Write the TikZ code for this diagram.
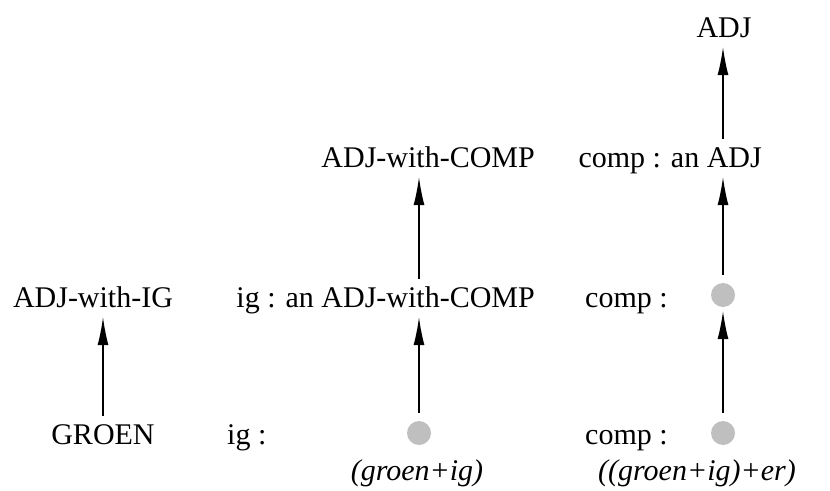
\documentclass[tikz,border=0pt]{standalone}
\usepackage{fontspec}
\setmainfont{Liberation Serif}
\usepackage{tikz}
\usetikzlibrary{
    calc,
    arrows.meta,
    shapes.geometric
}
\tikzset{
    lbl/.style={font=\fontsize{30}{36}\selectfont, inner sep=0pt, text height=20pt, text depth=6pt},
    der/.style={font=\fontsize{30}{36}\selectfont\itshape, inner sep=0pt, anchor=base},
    blob/.style={circle, fill=black!25, minimum size=24pt, inner sep=0pt},
    up/.style={-{Latex[length=28pt,width=11pt]}, line width=1.3pt, shorten <=8pt, shorten >=4pt}
}

\begin{document}
\begin{tikzpicture}[x=1pt,y=-1pt]
        \useasboundingbox (0,0) rectangle (830,490);

        \draw ( 93,307) node[lbl,anchor=base](adjig){ADJ-with-IG};
        \draw (103,444) node[lbl,anchor=base](groen){GROEN};

        \draw (535,167) node[lbl,anchor=base east](adjcomp){ADJ-with-COMP};
        \draw (535,307) node[lbl,anchor=base east](igan){ig : an ADJ-with-COMP};
        \draw (227,444) node[lbl,anchor=base west](igcol){ig :};
        \draw (419,433) node[blob](dotig){};
        \draw (417,480) node[der](gig){(groen+ig)};

        \draw (724, 37) node[lbl,anchor=base](adj){ADJ};
        \draw (762,167) node[lbl,anchor=base east](compadj){comp : an ADJ};
        \draw (585,307) node[lbl,anchor=base west](compa){comp :};
        \draw (585,444) node[lbl,anchor=base west](compb){comp :};
        \draw (723,295) node[blob](dotca){};
        \draw (723,433) node[blob](dotcb){};
        \draw (697,480) node[der](gigr){((groen+ig)+er)};

        \draw[up] (groen.north) to (adjig.south -| groen.north);

        \draw[up] (dotig.north) to (igan.south -| dotig.north);
        \draw[up] (igan.north -| dotig.north) to (adjcomp.south -| dotig.north);

        \draw[up] (dotcb.north) to (dotca.south);
        \draw[up] (dotca.north) to (compadj.south -| dotca.north);
        \draw[up] (compadj.north -| dotca.north) to (adj.south -| dotca.north);
    \end{tikzpicture}
\end{document}
